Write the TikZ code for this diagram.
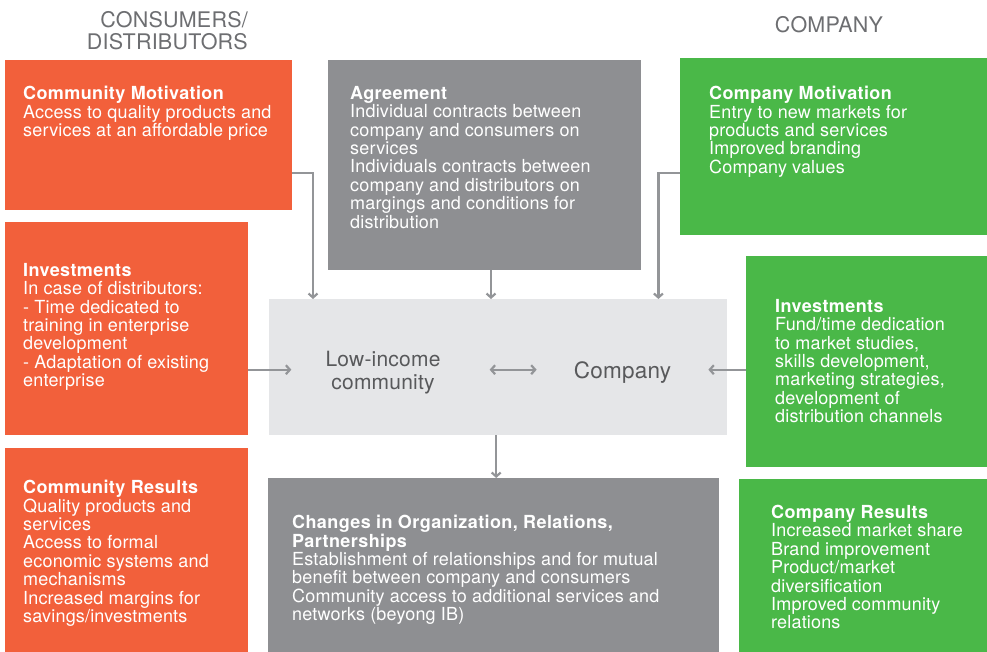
\documentclass[tikz,border=0pt]{standalone}
\usepackage{fontspec}
\setmainfont{TeX Gyre Heros}[LetterSpace=1, BoldFeatures={LetterSpace=2.2}]
\usetikzlibrary{positioning, calc, arrows.meta}
\definecolor{coral}{HTML}{F2603B}
\definecolor{leaf}{HTML}{4AB848}
\definecolor{slate}{HTML}{8E8F92}
\definecolor{mist}{HTML}{E5E6E8}
\definecolor{wire}{HTML}{939598}
\definecolor{ink}{HTML}{58595B}
\definecolor{headink}{HTML}{6D6E71}
\tikzset{>={Straight Barb[length=4pt,width=9pt]}}
\tikzset{panel/.style={rectangle, inner sep=0pt, anchor=north west}}
\newcommand{\boxfont}{\fontsize{18}{18.4}\selectfont}

\begin{document}
\begin{tikzpicture}
    [x=1pt, y=-1pt,
      blurb/.style={inner sep=0pt, align=left, text=white, font=\boxfont},
      heading/.style={inner sep=0pt, text=headink, font=\fontsize{21.5}{22.6}\selectfont},
      link/.style={draw=wire, line width=2.2pt, ->}]

    \useasboundingbox (0,0) rectangle (987,652);

    \node[heading, anchor=north east, align=right] (cons) at (248,11) {CONSUMERS/\\DISTRIBUTORS};
    \node[heading, anchor=north] (firm) at (829,16.5) {COMPANY};

    \node[panel, fill=coral, minimum width=287pt, minimum height=150pt] (cm) at (5,60) {};
    \node[panel, fill=coral, minimum width=243pt, minimum height=213pt] (oi) at (5,222) {};
    \node[panel, fill=coral, minimum width=243pt, minimum height=204pt] (cr) at (5,448) {};

    \node[panel, fill=slate, minimum width=313pt, minimum height=210pt] (ag) at (328,60) {};
    \node[panel, fill=mist, minimum width=458pt, minimum height=136pt] (low) at (269,299) {};
    \node[panel, fill=slate, minimum width=451pt, minimum height=174pt] (ch) at (268,478) {};

    \node[panel, fill=leaf, minimum width=307pt, minimum height=177pt] (gm) at (680,58) {};
    \node[panel, fill=leaf, minimum width=241pt, minimum height=211pt] (gi) at (746,256) {};
    \node[panel, fill=leaf, minimum width=248pt, minimum height=173pt] (gr) at (739,479) {};

    \node[blurb, below right=26pt and 18pt of cm.north west] (cmtext)
    {{\bfseries Community Motivation}\\Access to quality products and\\services at an affordable price};
    \node[blurb, below right=41pt and 18pt of oi.north west] (oitext)
    {{\bfseries Investments}\\In case of distributors:\\- Time dedicated to\\training in enterprise\\development\\- Adaptation of existing\\enterprise};
    \node[blurb, below right=32pt and 18pt of cr.north west] (crtext)
    {{\bfseries Community Results}\\Quality products and\\services\\Access to formal\\economic systems and\\mechanisms\\Increased margins for\\savings/investments};

    \node[blurb, below right=26pt and 22pt of ag.north west] (agtext)
    {{\bfseries Agreement}\\Individual contracts between\\company and consumers on\\services\\Individuals contracts between\\company and distributors on\\margings and conditions for\\distribution};
    \node[blurb, below right=37pt and 24pt of ch.north west] (chtext)
    {{\bfseries Changes in Organization, Relations,}\\{\bfseries Partnerships}\\Establishment of relationships and for mutual\\benefit between company and consumers\\Community access to additional services and\\networks (beyong IB)};

    \node[blurb, below right=28pt and 29pt of gm.north west] (gmtext)
    {{\bfseries Company Motivation}\\Entry to new markets for\\products and services\\Improved branding\\Company values};
    \node[blurb, below right=43pt and 29pt of gi.north west] (gitext)
    {{\bfseries Investments}\\Fund/time dedication\\to market studies,\\skills development,\\marketing strategies,\\development of\\distribution channels};
    \node[blurb, below right=26pt and 32pt of gr.north west] (grtext)
    {{\bfseries Company Results}\\Increased market share\\Brand improvement\\Product/market\\diversification\\Improved community\\relations};

    \node[inner sep=0pt, align=center, text=ink, font=\fontsize{21}{23}\selectfont]
    (lic) at (383,373) {Low-income\\community};
    \node[inner sep=0pt, anchor=base, text=ink, font=\fontsize{22.5}{24}\selectfont]
    (comp) at (622.5,378) {Company};

    \coordinate (axis) at ([yshift=-2.5pt]low.center);
    \coordinate (agfoot) at ([xshift=163pt]ag.south west);

    \draw[link] ([yshift=37pt]cm.south east) -| ([xshift=44pt]low.north west);
    \draw[link] (agfoot) -- (agfoot |- low.north);
    \draw[link] ([yshift=62pt]gm.south west) -| ([xshift=-69pt]low.north east);

    \draw[link, shorten >=34pt] (oi.east |- axis) -- (lic.west |- axis);
    \draw[link, <->, shorten <=49pt, shorten >=37pt] (lic.east |- axis) -- (comp.west |- axis);
    \draw[link, shorten >=37pt] (gi.west |- axis) -- (comp.east |- axis);

    \draw[link] ([xshift=-2pt]low.south) -- ([xshift=-2pt]low.south |- ch.north);
  \end{tikzpicture}
\end{document}
